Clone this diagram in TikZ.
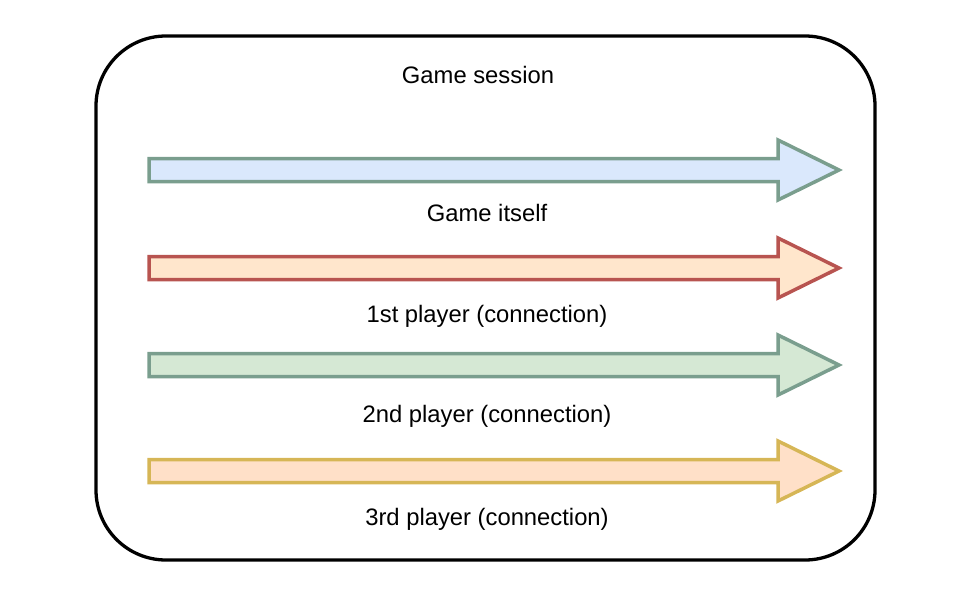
\documentclass[tikz,border=0pt]{standalone}
\usepackage{fontspec}
\setmainfont{Liberation Sans}
\definecolor{blueF}{HTML}{DAE8FC}
\definecolor{blueS}{HTML}{7A9E8E}
\definecolor{redF}{HTML}{FFE6CC}
\definecolor{redS}{HTML}{B85450}
\definecolor{greenF}{HTML}{D5E8D4}
\definecolor{greenS}{HTML}{7A9E8E}
\definecolor{goldF}{HTML}{FFE0C8}
\definecolor{goldS}{HTML}{D6B656}
\begin{document}
\begin{tikzpicture}[x=1pt,y=-1pt,line join=miter,font=\fontsize{23.8}{28}\selectfont,
	frame/.style={line width=3.3pt,rounded corners=70pt},
	flow/.style={line width=3.5pt}]
	\useasboundingbox (0,0) rectangle (975,597);
	\draw[frame] (96,36) rectangle (875,560);
	\node (session) at (478,75) {Game session};
	\foreach \y/\f/\s/\ly/\t in {170/blueF/blueS/213/Game itself,
		268/redF/redS/316/1st player (connection),
		365/greenF/greenS/416/2nd player (connection),
		471/goldF/goldS/519/3rd player (connection)}{
		\draw[flow,draw=\s,fill=\f] (149,\y-11.5)--(778,\y-11.5)--(778,\y-30)--(839,\y)
			--(778,\y+30)--(778,\y+11.5)--(149,\y+11.5)--cycle;
		\node at (487,\ly) {\t};
	}
\end{tikzpicture}
\end{document}
